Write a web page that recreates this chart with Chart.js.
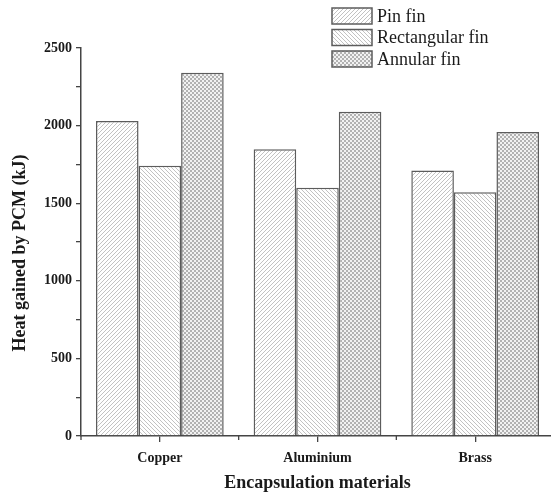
<!DOCTYPE html>
<html>
<head>
<meta charset="utf-8">
<script src="https://cdn.jsdelivr.net/npm/chart.js@4/dist/chart.umd.min.js"></script>
<style>
  html, body { margin: 0; padding: 0; background: #fff; overflow: hidden; }
  #wrap { width: 551px; height: 499px; overflow: hidden; position: relative; }
  canvas { display: block; }
</style>
</head>
<body>
<div id="wrap"><canvas id="c" width="554" height="499"></canvas></div>
<script>
// Heat gained by the PCM for each encapsulation material and fin type
const categories = ['Copper', 'Aluminium', 'Brass'];
const seriesNames = ['Pin fin', 'Rectangular fin', 'Annular fin'];
const pinFin = [2030, 1847, 1710];
const rectangularFin = [1742, 1600, 1571];
const annularFin = [2340, 2090, 1958];
const yTicks = [0, 500, 1000, 1500, 2000, 2500];
const yTitle = 'Heat gained by PCM (kJ)';

const SERIF = '"Liberation Serif", "Times New Roman", serif';
const EDGE = '#5c5c5c';
const INK = '#1a1a1a';

const canvas = document.getElementById('c');
const ctx = canvas.getContext('2d');

// fill patterns: forward hatch, backward hatch, fine checker
function hatchPattern(forward) {
  const t = document.createElement('canvas');
  t.width = t.height = 4;
  const g = t.getContext('2d');
  g.fillStyle = '#ffffff';
  g.fillRect(0, 0, 4, 4);
  g.strokeStyle = '#c2c2c2';
  g.lineWidth = 1;
  g.beginPath();
  if (forward) {
    g.moveTo(0, 4); g.lineTo(4, 0);
    g.moveTo(-1, 1); g.lineTo(1, -1);
    g.moveTo(3, 5); g.lineTo(5, 3);
  } else {
    g.moveTo(0, 0); g.lineTo(4, 4);
    g.moveTo(-1, 3); g.lineTo(1, 5);
    g.moveTo(3, -1); g.lineTo(5, 1);
  }
  g.stroke();
  return ctx.createPattern(t, 'repeat');
}
function checkerPattern() {
  const t = document.createElement('canvas');
  t.width = t.height = 4;
  const g = t.getContext('2d');
  g.fillStyle = '#f2f2f2';
  g.fillRect(0, 0, 4, 4);
  g.fillStyle = '#b2b2b2';
  g.fillRect(0, 0, 2, 2);
  g.fillRect(2, 2, 2, 2);
  return ctx.createPattern(t, 'repeat');
}
const fills = [hatchPattern(true), hatchPattern(false), checkerPattern()];

// legend stacked in the upper right corner
const legendPlugin = {
  id: 'stackedLegend',
  afterDraw(chart) {
    const c = chart.ctx;
    c.save();
    chart.data.datasets.forEach((ds, i) => {
      const bx = 332, by = 8 + i * 21.5, bw = 40, bh = 16;
      c.fillStyle = ds.backgroundColor;
      c.fillRect(bx, by, bw, bh);
      c.strokeStyle = EDGE;
      c.lineWidth = 1.5;
      c.strokeRect(bx, by, bw, bh);
      c.fillStyle = INK;
      c.font = '18px ' + SERIF;
      c.textBaseline = 'middle';
      c.textAlign = 'left';
      c.fillText(ds.label, bx + 45, by + bh / 2 + 1);
    });
    c.restore();
  }
};

// vertical axis title
const yTitlePlugin = {
  id: 'yTitle',
  afterDraw(chart) {
    const c = chart.ctx;
    c.save();
    c.translate(20, 253);
    c.rotate(-Math.PI / 2);
    c.fillStyle = INK;
    c.font = 'bold 18px ' + SERIF;
    c.textAlign = 'center';
    c.textBaseline = 'middle';
    c.fillText(yTitle, 0, 0);
    c.restore();
  }
};

// short ticks on the category boundaries
const boundaryTicks = {
  id: 'boundaryTicks',
  afterDraw(chart) {
    const xs = chart.scales.x;
    const c = chart.ctx;
    const n = categories.length;
    c.save();
    c.strokeStyle = '#444';
    c.lineWidth = 1.3;
    for (let i = 0; i <= n; i++) {
      const px = xs.left + i * (xs.width / n);
      c.beginPath();
      c.moveTo(px, xs.top);
      c.lineTo(px, xs.top + 4);
      c.stroke();
    }
    c.restore();
  }
};

const datasets = [pinFin, rectangularFin, annularFin].map((vals, i) => ({
  label: seriesNames[i],
  data: vals,
  backgroundColor: fills[i],
  borderColor: EDGE,
  borderWidth: 1.5,
  borderSkipped: 'start',
  categoryPercentage: 0.81,
  barPercentage: 1.0
}));

new Chart(ctx, {
  type: 'bar',
  data: { labels: categories, datasets },
  plugins: [legendPlugin, yTitlePlugin, boundaryTicks],
  options: {
    responsive: false,
    animation: false,
    layout: { padding: { top: 48, right: 0, bottom: 0, left: 0 } },
    plugins: { legend: { display: false }, tooltip: { enabled: false } },
    scales: {
      x: {
        offset: true,
        grid: { display: true, drawOnChartArea: false, drawTicks: true, tickLength: 6, offset: false, color: '#444', lineWidth: 1.3 },
        border: { display: true, color: '#444', width: 1.5 },
        ticks: { color: INK, font: { family: SERIF, size: 14, weight: 'bold' }, padding: 8 },
        title: { display: true, text: 'Encapsulation materials', color: INK, font: { family: SERIF, size: 18, weight: 'bold' }, padding: { top: 0, bottom: 5 } },
        afterFit(scale) { scale.height = 63; }
      },
      y: {
        min: 0,
        max: 2500,
        grid: { display: true, drawOnChartArea: false, drawTicks: true, tickLength: 5, color: '#444', lineWidth: 1.3 },
        border: { display: true, color: '#444', width: 1.5 },
        ticks: {
          stepSize: 250,
          color: INK,
          padding: 4,
          font: { family: SERIF, size: 14, weight: 'bold' },
          callback: (v) => yTicks.includes(v) ? String(v) : ''
        },
        afterFit(scale) { scale.width = 81; }
      }
    }
  }
});
</script>
</body>
</html>
